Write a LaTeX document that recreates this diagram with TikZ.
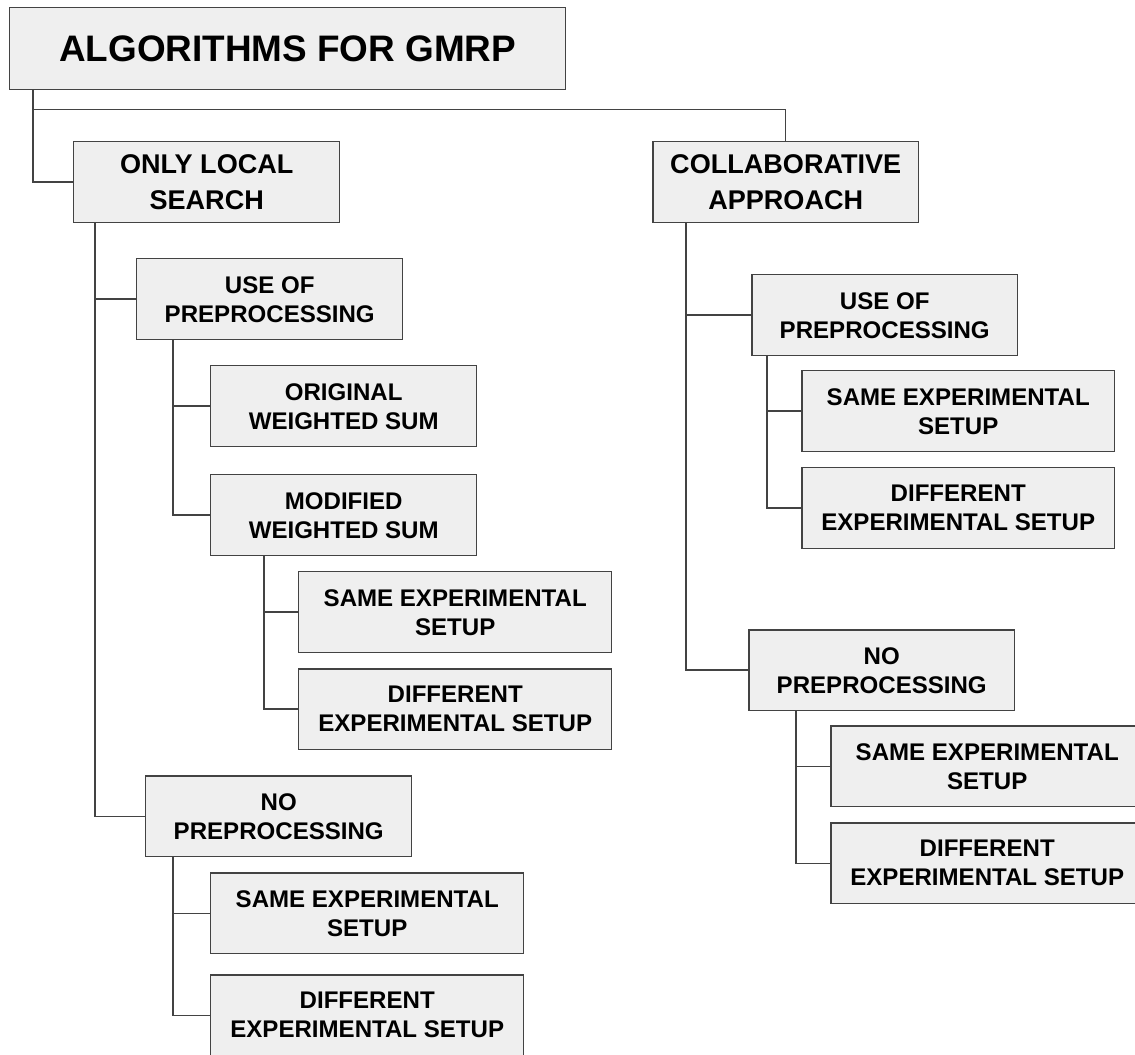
\documentclass[tikz,border=0pt]{standalone}
\usepackage{fontspec}
\setmainfont{Liberation Sans}
\usetikzlibrary{calc}
\definecolor{boxfill}{HTML}{EFEFEF}
\definecolor{boxline}{HTML}{434343}
\tikzset{
    cat/.style={draw=boxline, fill=boxfill, line width=0.85pt, align=center,
        anchor=north west, inner sep=0pt, minimum height=1.62cm,
        font=\fontsize{13.7}{16.5}\selectfont\bfseries},
    narrow/.style={minimum width=5.32cm},
    wide/.style={minimum width=6.26cm},
    level1/.style={font=\fontsize{15.4}{20}\selectfont\bfseries},
    link/.style={draw=boxline, line width=0.85pt},
}
\begin{document}
\begin{tikzpicture}[x=0.02cm, y=-0.02cm]
        \clip (0,0) rectangle (1135,1054);
        \fill[white] (0,0) rectangle (1135,1054);
        % root
        \node[cat, minimum width=11.12cm, minimum height=1.64cm,
            font=\fontsize{21}{25}\selectfont\bfseries] (root) at (9,7) {ALGORITHMS FOR GMRP};
        % first level
        \node[cat,narrow,level1] (los) at (73,141) {ONLY LOCAL\\SEARCH};
        \node[cat,narrow,level1] (col) at (652,141) {COLLABORATIVE\\APPROACH};
        % local search branch
        \node[cat,narrow] (lpre) at (136,258) {USE OF\\PREPROCESSING};
        \node[cat,narrow] (lorig) at (210,365) {ORIGINAL\\WEIGHTED SUM};
        \node[cat,narrow] (lmod) at (210,474) {MODIFIED\\WEIGHTED SUM};
        \node[cat,wide] (lmodsame) at (298,571) {SAME EXPERIMENTAL\\SETUP};
        \node[cat,wide] (lmoddiff) at (298,668) {DIFFERENT\\EXPERIMENTAL SETUP};
        \node[cat,narrow] (lnopre) at (145,775) {NO\\PREPROCESSING};
        \node[cat,wide] (lnosame) at (210,872) {SAME EXPERIMENTAL\\SETUP};
        \node[cat,wide] (lnodiff) at (210,974) {DIFFERENT\\EXPERIMENTAL SETUP};
        % collaborative branch
        \node[cat,narrow] (rpre) at (751,274) {USE OF\\PREPROCESSING};
        \node[cat,wide] (rpresame) at (801,370) {SAME EXPERIMENTAL\\SETUP};
        \node[cat,wide] (rprediff) at (801,467) {DIFFERENT\\EXPERIMENTAL SETUP};
        \node[cat,narrow] (rnopre) at (748,629) {NO\\PREPROCESSING};
        \node[cat,wide] (rnosame) at (830,725) {SAME EXPERIMENTAL\\SETUP};
        \node[cat,wide] (rnodiff) at (830,822) {DIFFERENT\\EXPERIMENTAL SETUP};
        % root to first level
        \coordinate (rt) at ($(root.south west)+(24,0)$);
        \draw[link] (rt) |- (los.west);
        \draw[link] (rt) -- ++(0,19) -| (col.north);
        % elbows under each parent
        \coordinate (lt) at ($(los.south west)+(22,0)$);
        \draw[link] (lt) |- (lpre.west);
        \draw[link] (lt) |- (lnopre.west);
        \coordinate (lpt) at ($(lpre.south west)+(37,0)$);
        \draw[link] (lpt) |- (lorig.west);
        \draw[link] (lpt) |- (lmod.west);
        \coordinate (lmt) at ($(lmod.south west)+(54,0)$);
        \draw[link] (lmt) |- (lmodsame.west);
        \draw[link] (lmt) |- (lmoddiff.west);
        \coordinate (lnt) at ($(lnopre.south west)+(28,0)$);
        \draw[link] (lnt) |- (lnosame.west);
        \draw[link] (lnt) |- (lnodiff.west);
        \coordinate (ct) at ($(col.south west)+(34,0)$);
        \draw[link] (ct) |- (rpre.west);
        \draw[link] (ct) |- (rnopre.west);
        \coordinate (rpt) at ($(rpre.south west)+(16,0)$);
        \draw[link] (rpt) |- (rpresame.west);
        \draw[link] (rpt) |- (rprediff.west);
        \coordinate (rnt) at ($(rnopre.south west)+(48,0)$);
        \draw[link] (rnt) |- (rnosame.west);
        \draw[link] (rnt) |- (rnodiff.west);
    \end{tikzpicture}
\end{document}
